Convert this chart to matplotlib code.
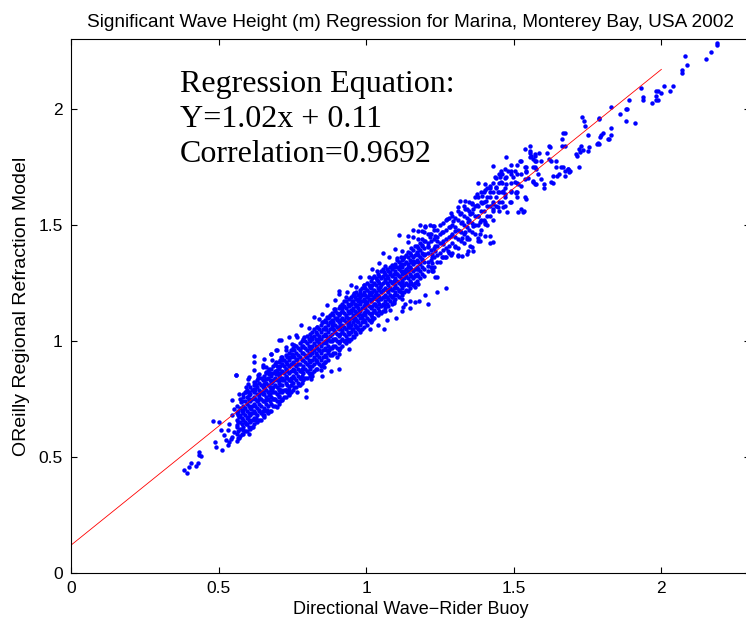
"""Significant wave height regression: buoy vs regional refraction model."""

import matplotlib
matplotlib.use("Agg")
import matplotlib.pyplot as plt
import numpy as np

# (buoy Hs, model Hs) pairs, grouped by range
lower_pts = [
    (0.384, 0.443), (0.392, 0.433), (0.401, 0.457), (0.405, 0.472), (0.422, 0.460),
    (0.429, 0.474), (0.432, 0.522), (0.432, 0.508), (0.441, 0.503), (0.480, 0.654),
    (0.502, 0.651), (0.489, 0.565), (0.491, 0.543), (0.512, 0.532), (0.531, 0.551),
    (0.542, 0.579), (0.570, 0.582), (0.559, 0.852), (0.559, 0.855),
    (0.604, 0.844), (0.632, 0.852), (0.660, 0.866), (0.694, 0.859), (0.598, 0.816),
    (0.626, 0.809), (0.654, 0.816), (0.682, 0.823), (0.705, 0.830), (0.727, 0.844),
    (0.570, 0.773), (0.592, 0.780), (0.621, 0.787), (0.649, 0.780), (0.677, 0.787),
    (0.705, 0.794), (0.727, 0.787), (0.547, 0.744), (0.576, 0.737), (0.604, 0.744),
    (0.632, 0.744), (0.660, 0.747), (0.688, 0.751), (0.716, 0.744), (0.553, 0.708),
    (0.581, 0.704), (0.609, 0.708), (0.637, 0.701), (0.665, 0.704), (0.699, 0.716),
    (0.547, 0.680), (0.570, 0.673), (0.598, 0.673), (0.626, 0.666), (0.654, 0.673),
    (0.536, 0.644), (0.564, 0.637), (0.592, 0.644), (0.615, 0.630), (0.508, 0.615),
    (0.531, 0.615), (0.553, 0.608), (0.581, 0.615), (0.604, 0.601), (0.519, 0.594),
    (0.547, 0.586), (0.525, 0.572), (0.536, 0.565),
    (0.621, 0.933), (0.649, 0.895), (0.677, 0.942), (0.705, 1.002), (0.739, 1.017),
    (0.767, 1.017), (0.699, 0.961), (0.727, 0.959), (0.621, 0.823), (0.637, 0.859),
    (0.660, 0.887), (0.671, 0.859), (0.694, 0.909), (0.716, 0.916), (0.750, 0.945),
    (0.750, 0.988),
]

middle_pts = [
    (0.907, 1.203), (0.930, 1.189), (0.958, 1.196), (0.975, 1.181), (0.947, 1.160),
    (0.969, 1.153), (0.997, 1.160), (0.896, 1.138), (0.918, 1.128), (0.947, 1.124),
    (0.975, 1.117), (0.997, 1.124), (0.823, 1.103), (0.840, 1.096), (0.868, 1.103),
    (0.885, 1.088), (0.913, 1.085), (0.941, 1.081), (0.969, 1.088), (0.778, 1.067),
    (0.806, 1.057), (0.834, 1.060), (0.862, 1.052), (0.890, 1.047), (0.918, 1.045),
    (0.952, 1.052), (0.980, 1.047), (0.711, 1.002), (0.761, 1.024), (0.789, 1.017),
    (0.812, 1.017), (0.840, 1.009), (0.868, 1.004), (0.896, 1.009), (0.930, 1.002),
    (0.958, 1.017), (0.694, 0.959), (0.727, 0.973), (0.755, 0.981), (0.783, 0.973),
    (0.812, 0.966), (0.840, 0.959), (0.874, 0.959), (0.907, 0.945), (0.941, 0.966),
    (0.677, 0.945), (0.654, 0.923), (0.682, 0.916), (0.711, 0.930), (0.739, 0.930),
    (0.767, 0.923), (0.795, 0.930), (0.829, 0.916), (0.862, 0.909), (0.621, 0.909),
    (0.621, 0.873), (0.649, 0.887), (0.671, 0.880), (0.699, 0.873), (0.727, 0.880),
    (0.755, 0.873), (0.783, 0.866), (0.812, 0.859), (0.846, 0.873), (0.857, 0.887),
    (0.902, 0.930), (0.598, 0.837), (0.632, 0.841), (0.660, 0.837), (0.688, 0.833),
    (0.716, 0.830), (0.744, 0.827), (0.778, 0.837), (0.812, 0.837), (0.592, 0.801),
    (0.621, 0.794), (0.654, 0.799), (0.682, 0.794), (0.711, 0.787), (0.739, 0.790),
    (0.767, 0.780), (0.795, 0.787), (0.581, 0.773), (0.604, 0.766), (0.637, 0.773),
    (0.671, 0.766), (0.705, 0.761), (0.739, 0.766), (0.907, 0.880), (0.817, 0.847),
    (0.772, 0.809), (0.795, 0.759), (0.850, 0.850), (0.880, 0.870),
    (1.183, 1.501), (1.200, 1.497), (1.217, 1.501), (1.231, 1.497), (1.157, 1.478),
    (1.177, 1.475), (1.197, 1.468), (1.217, 1.461), (1.233, 1.454), (1.110, 1.458),
    (1.143, 1.454), (1.160, 1.447), (1.177, 1.440), (1.143, 1.425), (1.166, 1.411),
    (1.188, 1.415), (1.211, 1.411), (1.233, 1.411), (1.098, 1.397), (1.121, 1.389),
    (1.143, 1.382), (1.171, 1.382), (1.200, 1.375), (1.222, 1.375), (1.056, 1.378),
    (1.076, 1.361), (1.104, 1.358), (1.126, 1.354), (1.160, 1.346), (1.188, 1.354),
    (1.222, 1.335), (1.042, 1.335), (1.065, 1.325), (1.087, 1.329), (1.115, 1.325),
    (1.143, 1.320), (1.171, 1.311), (1.228, 1.303), (1.020, 1.311), (1.036, 1.303),
    (1.059, 1.296), (1.082, 1.296), (1.104, 1.289), (1.132, 1.292), (1.166, 1.282),
    (0.980, 1.274), (1.008, 1.277), (1.036, 1.263), (1.065, 1.267), (1.093, 1.260),
    (1.121, 1.253), (1.149, 1.246), (1.177, 1.246), (0.947, 1.239), (0.964, 1.231),
    (0.992, 1.239), (1.014, 1.231), (1.048, 1.231), (1.076, 1.225), (1.110, 1.217),
    (1.143, 1.217), (1.166, 1.231), (0.907, 1.217), (0.935, 1.210), (0.958, 1.206),
    (0.980, 1.206), (1.008, 1.200), (1.031, 1.196), (1.059, 1.191), (1.087, 1.191),
    (1.121, 1.181), (0.896, 1.177), (0.924, 1.174), (0.952, 1.171), (0.975, 1.174),
    (1.003, 1.167), (1.031, 1.160), (1.059, 1.153), (1.093, 1.163), (1.149, 1.174),
    (1.166, 1.167), (1.126, 1.148), (0.868, 1.153), (0.890, 1.138), (0.918, 1.143),
    (0.947, 1.134), (0.975, 1.131), (1.003, 1.128), (1.025, 1.134), (1.065, 1.131),
    (1.082, 1.134), (0.851, 1.117), (0.874, 1.103), (0.902, 1.100), (0.930, 1.103),
    (0.958, 1.096), (0.986, 1.100), (1.020, 1.103), (0.851, 1.081), (0.885, 1.074),
    (0.913, 1.067), (0.941, 1.060), (0.969, 1.062), (1.014, 1.052),
    (1.040, 1.070), (1.070, 1.090), (1.100, 1.100), (1.120, 1.130), (1.150, 1.140),
    (1.180, 1.170), (1.210, 1.160), (1.240, 1.210), (1.270, 1.230), (1.200, 1.200),
    (1.060, 1.050), (1.130, 1.160),
]

upper_pts = [
    (1.475, 1.791), (1.520, 1.776), (1.554, 1.808), (1.554, 1.794), (1.571, 1.751),
    (1.565, 1.683), (1.576, 1.676), (1.537, 1.748), (1.542, 1.726), (1.456, 1.731),
    (1.481, 1.731), (1.503, 1.731), (1.436, 1.708), (1.452, 1.705), (1.475, 1.708),
    (1.497, 1.708), (1.458, 1.683), (1.475, 1.676), (1.503, 1.683), (1.514, 1.676),
    (1.379, 1.679), (1.402, 1.676), (1.419, 1.669), (1.441, 1.665), (1.402, 1.650),
    (1.419, 1.640), (1.447, 1.640), (1.464, 1.648), (1.469, 1.633), (1.492, 1.645),
    (1.509, 1.636), (1.512, 1.619), (1.374, 1.633), (1.391, 1.626), (1.318, 1.601),
    (1.334, 1.601), (1.357, 1.593), (1.374, 1.587), (1.391, 1.593), (1.407, 1.604),
    (1.430, 1.590), (1.445, 1.579), (1.430, 1.569), (1.464, 1.576), (1.478, 1.554),
    (1.514, 1.554), (1.535, 1.561), (1.312, 1.576), (1.334, 1.569), (1.362, 1.569),
    (1.289, 1.550), (1.318, 1.548), (1.351, 1.548), (1.379, 1.540), (1.402, 1.511),
    (1.385, 1.511), (1.273, 1.525), (1.295, 1.518), (1.323, 1.511), (1.346, 1.511),
    (1.362, 1.497), (1.284, 1.490), (1.301, 1.475), (1.318, 1.475), (1.334, 1.468),
    (1.289, 1.454), (1.323, 1.444), (1.340, 1.440), (1.379, 1.444), (1.419, 1.454),
    (1.385, 1.432), (1.419, 1.421), (1.357, 1.404), (1.346, 1.389), (1.362, 1.389),
    (1.256, 1.468), (1.228, 1.497), (1.200, 1.492), (1.188, 1.475), (1.217, 1.447),
    (1.239, 1.432), (1.261, 1.418), (1.200, 1.432), (1.211, 1.404), (1.233, 1.389),
    (1.278, 1.389), (1.256, 1.363), (1.289, 1.372), (1.312, 1.372), (1.194, 1.375),
    (1.222, 1.361), (1.430, 1.755), (1.571, 1.776),
    (1.379, 1.432), (1.402, 1.454), (1.430, 1.425), (1.351, 1.411), (1.323, 1.368),
    (1.312, 1.368), (1.340, 1.375), (1.301, 1.404), (1.233, 1.274), (1.222, 1.303),
    (1.211, 1.325), (1.239, 1.274), (1.222, 1.311), (1.267, 1.361), (1.385, 1.461),
    (1.402, 1.504), (1.492, 1.733), (1.526, 1.719), (1.537, 1.619), (1.531, 1.554),
    (1.571, 1.798), (1.627, 1.683), (1.604, 1.676), (1.666, 1.748), (1.683, 1.741),
    (1.688, 1.726), (1.711, 1.805), (1.672, 1.841), (1.666, 1.898), (1.621, 1.841),
    (1.537, 1.827), (1.554, 1.841), (1.509, 1.640), (1.486, 1.597),
]

tail_pts = [
    (1.523, 1.776), (1.554, 1.819), (1.557, 1.798), (1.565, 1.784), (1.573, 1.805),
    (1.584, 1.808), (1.593, 1.776), (1.576, 1.776), (1.542, 1.748), (1.542, 1.733),
    (1.565, 1.751), (1.576, 1.741), (1.537, 1.698), (1.548, 1.702), (1.565, 1.690),
    (1.573, 1.676), (1.582, 1.719), (1.593, 1.698), (1.604, 1.661), (1.523, 1.669),
    (1.542, 1.611), (1.523, 1.569), (1.613, 1.808), (1.621, 1.784), (1.623, 1.837),
    (1.627, 1.776), (1.643, 1.776), (1.643, 1.748), (1.632, 1.712), (1.632, 1.679),
    (1.647, 1.712), (1.652, 1.719), (1.660, 1.748), (1.663, 1.870), (1.663, 1.841),
    (1.672, 1.898), (1.672, 1.733), (1.672, 1.712), (1.683, 1.741), (1.692, 1.733),
    (1.722, 1.748), (1.714, 1.798), (1.720, 1.827), (1.726, 1.812), (1.728, 1.841),
    (1.730, 1.966), (1.739, 1.948), (1.741, 1.927), (1.750, 1.888), (1.734, 1.822),
    (1.750, 1.819), (1.754, 1.837), (1.781, 1.848), (1.784, 1.855), (1.790, 1.955),
    (1.795, 1.888), (1.801, 1.898), (1.820, 1.870), (1.829, 1.917), (1.829, 1.888),
    (1.831, 2.009), (1.860, 1.977), (1.880, 1.999), (1.880, 1.948),
    (2.187, 2.285), (2.187, 2.275), (2.169, 2.247), (2.150, 2.217), (2.079, 2.228),
    (2.088, 2.188), (2.069, 2.166), (2.069, 2.156), (2.040, 2.099), (2.029, 2.077),
    (2.009, 2.099), (1.998, 2.067), (1.989, 2.077), (1.981, 2.077), (1.981, 2.056),
    (1.990, 2.037), (1.981, 2.037), (1.970, 2.027), (1.939, 2.049), (1.939, 2.037),
    (1.930, 2.089), (1.891, 2.037), (1.882, 1.999), (1.911, 1.937), (1.823, 1.870),
    (1.793, 1.877), (1.790, 1.848), (1.790, 1.959),
]

# solid core of the cloud: buoy value and the model values stacked above it
core_columns = [
    (0.561, [0.57, 0.60, 0.63, 0.66, 0.69, 0.72]),
    (0.573, [0.59, 0.62, 0.65, 0.68, 0.71, 0.75]),
    (0.584, [0.60, 0.63, 0.66, 0.69, 0.72, 0.76]),
    (0.596, [0.61, 0.64, 0.67, 0.70, 0.73, 0.76, 0.79]),
    (0.608, [0.62, 0.65, 0.68, 0.71, 0.74, 0.77, 0.80]),
    (0.619, [0.64, 0.67, 0.70, 0.73, 0.76, 0.78, 0.81]),
    (0.631, [0.65, 0.68, 0.71, 0.74, 0.77, 0.80, 0.83]),
    (0.643, [0.66, 0.69, 0.72, 0.75, 0.78, 0.81, 0.84]),
    (0.655, [0.68, 0.71, 0.74, 0.77, 0.80, 0.83, 0.85]),
    (0.667, [0.69, 0.72, 0.75, 0.78, 0.81, 0.84, 0.87]),
    (0.679, [0.70, 0.73, 0.76, 0.79, 0.82, 0.85, 0.88]),
    (0.691, [0.72, 0.75, 0.78, 0.81, 0.84, 0.87, 0.90]),
    (0.703, [0.73, 0.76, 0.79, 0.82, 0.85, 0.88, 0.91]),
    (0.715, [0.75, 0.78, 0.81, 0.84, 0.87, 0.90, 0.93]),
    (0.727, [0.76, 0.79, 0.82, 0.85, 0.88, 0.91, 0.94]),
    (0.739, [0.77, 0.80, 0.83, 0.86, 0.89, 0.92, 0.95]),
    (0.751, [0.79, 0.82, 0.85, 0.88, 0.91, 0.94, 0.97]),
    (0.763, [0.80, 0.83, 0.86, 0.89, 0.92, 0.95, 0.98]),
    (0.775, [0.81, 0.84, 0.87, 0.90, 0.93, 0.96, 0.99]),
    (0.787, [0.83, 0.86, 0.89, 0.92, 0.95, 0.98, 1.01]),
    (0.799, [0.84, 0.87, 0.90, 0.93, 0.96, 0.99, 1.02]),
    (0.811, [0.85, 0.88, 0.91, 0.94, 0.97, 1.00, 1.03]),
    (0.823, [0.87, 0.90, 0.93, 0.96, 0.99, 1.02, 1.05]),
    (0.835, [0.88, 0.91, 0.94, 0.97, 1.00, 1.03, 1.06]),
    (0.847, [0.89, 0.92, 0.95, 0.98, 1.01, 1.04, 1.07]),
    (0.859, [0.91, 0.94, 0.97, 1.00, 1.03, 1.06, 1.09]),
    (0.871, [0.92, 0.95, 0.98, 1.01, 1.04, 1.07, 1.10]),
    (0.883, [0.94, 0.97, 1.00, 1.03, 1.06, 1.09, 1.12]),
    (0.895, [0.95, 0.98, 1.01, 1.04, 1.07, 1.10, 1.13]),
    (0.907, [0.96, 0.99, 1.02, 1.05, 1.08, 1.11, 1.14]),
    (0.919, [0.98, 1.01, 1.04, 1.07, 1.10, 1.13, 1.16]),
    (0.931, [0.99, 1.02, 1.05, 1.08, 1.11, 1.14, 1.17]),
    (0.943, [1.00, 1.03, 1.06, 1.09, 1.12, 1.15, 1.18]),
    (0.955, [1.02, 1.05, 1.08, 1.11, 1.14, 1.17, 1.20]),
    (0.967, [1.03, 1.06, 1.09, 1.12, 1.15, 1.18, 1.21]),
    (0.979, [1.04, 1.07, 1.10, 1.13, 1.16, 1.19, 1.22]),
    (0.991, [1.06, 1.09, 1.12, 1.15, 1.18, 1.21, 1.24]),
    (1.003, [1.07, 1.10, 1.13, 1.16, 1.19, 1.22, 1.25]),
    (1.015, [1.08, 1.11, 1.14, 1.17, 1.20, 1.23, 1.26]),
    (1.027, [1.10, 1.13, 1.16, 1.19, 1.22, 1.25, 1.28]),
    (1.039, [1.11, 1.14, 1.17, 1.20, 1.23, 1.26, 1.29]),
    (1.051, [1.12, 1.15, 1.18, 1.21, 1.24, 1.27, 1.30]),
    (1.063, [1.14, 1.17, 1.20, 1.23, 1.26, 1.29]),
    (1.075, [1.15, 1.18, 1.21, 1.24, 1.27, 1.30]),
    (1.087, [1.16, 1.19, 1.22, 1.25, 1.28, 1.31]),
    (1.099, [1.18, 1.21, 1.24, 1.27, 1.30, 1.33]),
    (1.111, [1.19, 1.22, 1.25, 1.28, 1.31, 1.34]),
    (1.123, [1.20, 1.23, 1.26, 1.29, 1.32, 1.35]),
    (1.135, [1.22, 1.25, 1.28, 1.31, 1.34, 1.37]),
    (1.147, [1.23, 1.26, 1.29, 1.32, 1.35, 1.38]),
    (1.159, [1.24, 1.27, 1.30, 1.33, 1.36, 1.39]),
    (1.171, [1.26, 1.29, 1.32, 1.35, 1.38, 1.41]),
    (1.183, [1.27, 1.30, 1.33, 1.36, 1.39, 1.42]),
    (1.195, [1.28, 1.31, 1.34, 1.37, 1.40, 1.43]),
    (1.210, [1.30, 1.34, 1.38, 1.42, 1.46]),
    (1.230, [1.32, 1.36, 1.40, 1.44, 1.48]),
    (1.250, [1.34, 1.38, 1.42, 1.46, 1.50]),
    (1.270, [1.36, 1.40, 1.44, 1.48, 1.52]),
    (1.290, [1.38, 1.42, 1.46, 1.50, 1.54]),
    (1.310, [1.40, 1.44, 1.48, 1.52, 1.56]),
    (1.330, [1.42, 1.46, 1.50, 1.54, 1.58]),
    (1.350, [1.44, 1.48, 1.52, 1.56, 1.60]),
    (1.370, [1.46, 1.50, 1.54, 1.58, 1.62]),
    (1.390, [1.48, 1.52, 1.56, 1.60, 1.64]),
    (1.410, [1.50, 1.54, 1.58, 1.62, 1.66]),
    (1.430, [1.52, 1.56, 1.60, 1.64, 1.68]),
    (1.450, [1.56, 1.60, 1.64, 1.68, 1.72]),
    (1.470, [1.58, 1.62, 1.66, 1.70, 1.74]),
    (1.490, [1.60, 1.64, 1.68, 1.72, 1.76]),
    (1.510, [1.64, 1.68, 1.72, 1.76]),
]

# points between the core columns
core_fill = [
    (0.567, [0.58, 0.61, 0.65, 0.68, 0.70]),
    (0.579, [0.60, 0.64, 0.67, 0.70, 0.74]),
    (0.590, [0.61, 0.65, 0.68, 0.71, 0.74, 0.78]),
    (0.602, [0.63, 0.66, 0.69, 0.72, 0.75, 0.78]),
    (0.614, [0.63, 0.66, 0.69, 0.72, 0.75, 0.79]),
    (0.625, [0.66, 0.69, 0.72, 0.75, 0.79, 0.82]),
    (0.637, [0.66, 0.70, 0.73, 0.76, 0.79, 0.82]),
    (0.649, [0.68, 0.70, 0.74, 0.77, 0.80, 0.83]),
    (0.661, [0.70, 0.73, 0.76, 0.79, 0.82, 0.86]),
    (0.673, [0.70, 0.74, 0.77, 0.80, 0.83, 0.86]),
    (0.685, [0.72, 0.75, 0.78, 0.80, 0.83, 0.86, 0.89]),
    (0.697, [0.74, 0.77, 0.80, 0.83, 0.86, 0.89]),
    (0.709, [0.74, 0.78, 0.81, 0.84, 0.86, 0.89, 0.92]),
    (0.721, [0.76, 0.79, 0.83, 0.86, 0.89, 0.92]),
    (0.733, [0.78, 0.81, 0.84, 0.87, 0.90, 0.93]),
    (0.745, [0.78, 0.81, 0.84, 0.87, 0.90, 0.93, 0.96]),
    (0.757, [0.80, 0.84, 0.87, 0.90, 0.93, 0.96]),
    (0.769, [0.82, 0.85, 0.88, 0.90, 0.94, 0.97]),
    (0.781, [0.82, 0.85, 0.88, 0.92, 0.95, 0.98, 1.00]),
    (0.793, [0.84, 0.88, 0.91, 0.94, 0.97, 1.00]),
    (0.805, [0.86, 0.89, 0.92, 0.95, 0.98, 1.01]),
    (0.817, [0.86, 0.89, 0.92, 0.95, 0.98, 1.01, 1.04]),
    (0.829, [0.88, 0.92, 0.95, 0.98, 1.01, 1.04]),
    (0.841, [0.90, 0.93, 0.96, 0.99, 1.02, 1.05]),
    (0.853, [0.90, 0.93, 0.96, 0.99, 1.02, 1.05, 1.08]),
    (0.865, [0.93, 0.96, 0.99, 1.02, 1.05, 1.08]),
    (0.877, [0.94, 0.97, 1.00, 1.02, 1.05, 1.08, 1.11]),
    (0.889, [0.95, 0.98, 1.01, 1.05, 1.08, 1.11]),
    (0.901, [0.97, 1.00, 1.03, 1.06, 1.09, 1.12]),
    (0.913, [0.97, 1.00, 1.03, 1.06, 1.09, 1.12, 1.15]),
    (0.925, [1.00, 1.03, 1.06, 1.09, 1.12, 1.15]),
    (0.937, [1.01, 1.04, 1.07, 1.10, 1.13, 1.16]),
    (0.949, [1.01, 1.04, 1.07, 1.10, 1.13, 1.16, 1.19]),
    (0.961, [1.04, 1.07, 1.10, 1.13, 1.16, 1.19]),
    (0.973, [1.05, 1.08, 1.11, 1.14, 1.17, 1.20]),
    (0.985, [1.05, 1.08, 1.11, 1.14, 1.17, 1.20, 1.23]),
    (0.997, [1.08, 1.11, 1.14, 1.17, 1.20, 1.23]),
    (1.009, [1.09, 1.12, 1.15, 1.18, 1.21, 1.24]),
    (1.021, [1.09, 1.12, 1.15, 1.18, 1.21, 1.24, 1.27]),
    (1.033, [1.12, 1.15, 1.18, 1.21, 1.24, 1.27]),
    (1.045, [1.13, 1.16, 1.19, 1.22, 1.25, 1.28]),
    (1.057, [1.13, 1.16, 1.19, 1.22, 1.25, 1.28, 1.31]),
    (1.069, [1.16, 1.19, 1.22, 1.25, 1.28, 1.31]),
    (1.081, [1.17, 1.20, 1.23, 1.26, 1.29, 1.32]),
    (1.093, [1.17, 1.20, 1.23, 1.26, 1.29, 1.32]),
    (1.105, [1.20, 1.23, 1.26, 1.29, 1.32, 1.35]),
    (1.117, [1.21, 1.24, 1.27, 1.30, 1.33, 1.36]),
    (1.129, [1.21, 1.24, 1.27, 1.30, 1.33, 1.36]),
    (1.141, [1.24, 1.27, 1.30, 1.33, 1.36]),
    (1.153, [1.25, 1.28, 1.31, 1.34, 1.37, 1.40]),
    (1.165, [1.25, 1.28, 1.31, 1.34, 1.37]),
    (1.177, [1.28, 1.31, 1.34, 1.37, 1.40]),
    (1.189, [1.29, 1.32, 1.35, 1.38, 1.41, 1.44]),
    (1.220, [1.32, 1.35, 1.39, 1.43, 1.46]),
    (1.240, [1.34, 1.37, 1.41, 1.45, 1.48]),
    (1.260, [1.36, 1.39, 1.43, 1.47, 1.51]),
    (1.280, [1.38, 1.41, 1.45, 1.49, 1.53]),
    (1.300, [1.41, 1.45, 1.49, 1.53]),
    (1.320, [1.43, 1.47, 1.51, 1.55]),
    (1.340, [1.45, 1.49, 1.53, 1.57]),
    (1.360, [1.47, 1.51, 1.55, 1.59]),
    (1.380, [1.50, 1.54, 1.58, 1.62]),
    (1.400, [1.52, 1.56, 1.60, 1.64]),
    (1.420, [1.54, 1.58, 1.62, 1.66]),
    (1.440, [1.58, 1.62, 1.66, 1.70]),
    (1.460, [1.60, 1.64, 1.68, 1.72]),
]

# regression line end points (x from 0 to 2)
fit_x = [0.0, 2.0]
fit_y = [0.12, 2.17]

equation_lines = ["Regression Equation:", "Y=1.02x + 0.11", "Correlation=0.9692"]
ticks = [0, 0.5, 1, 1.5, 2]
tick_labels = ["0", "0.5", "1", "1.5", "2"]

plt.rcParams["font.family"] = ["Liberation Sans", "DejaVu Sans"]

pts = np.array(lower_pts + middle_pts + upper_pts + tail_pts)
core = np.array([(bx, my) for bx, ys in core_columns + core_fill for my in ys])
pts = np.vstack([pts, core])

fig = plt.figure(figsize=(7.46, 6.25), dpi=100)
ax = fig.add_axes([0.0952, 0.0832, 0.910, 0.854])

ax.plot(pts[:, 0], pts[:, 1], "o", color=(0, 0, 1), markersize=3.2,
        markeredgewidth=0, linestyle="none")
ax.plot(fit_x, fit_y, color=(1, 0, 0), linewidth=0.6)

ax.set_xlim(0, 2.3)
ax.set_ylim(0, 2.3)
ax.set_xticks(ticks)
ax.set_xticklabels(tick_labels)
ax.set_yticks(ticks)
ax.set_yticklabels(tick_labels)
ax.tick_params(direction="in", length=4.5, width=0.8, top=True, right=True,
               labelsize=12.5, pad=6)
for s in ax.spines.values():
    s.set_linewidth(0.8)

ax.set_title("Significant Wave Height (m) Regression for Marina, Monterey Bay, USA 2002",
             fontsize=13.7, pad=9)
ax.set_xlabel("Directional Wave\u2212Rider Buoy", fontsize=13, labelpad=3)
ax.set_ylabel("OReilly Regional Refraction Model", fontsize=14, labelpad=6)

for i, line in enumerate(equation_lines):
    ax.text(0.37, 2.072 - 0.151 * i, line, family="Liberation Serif",
            fontsize=23, va="baseline", ha="left")

fig.savefig("out.png", dpi=100)
